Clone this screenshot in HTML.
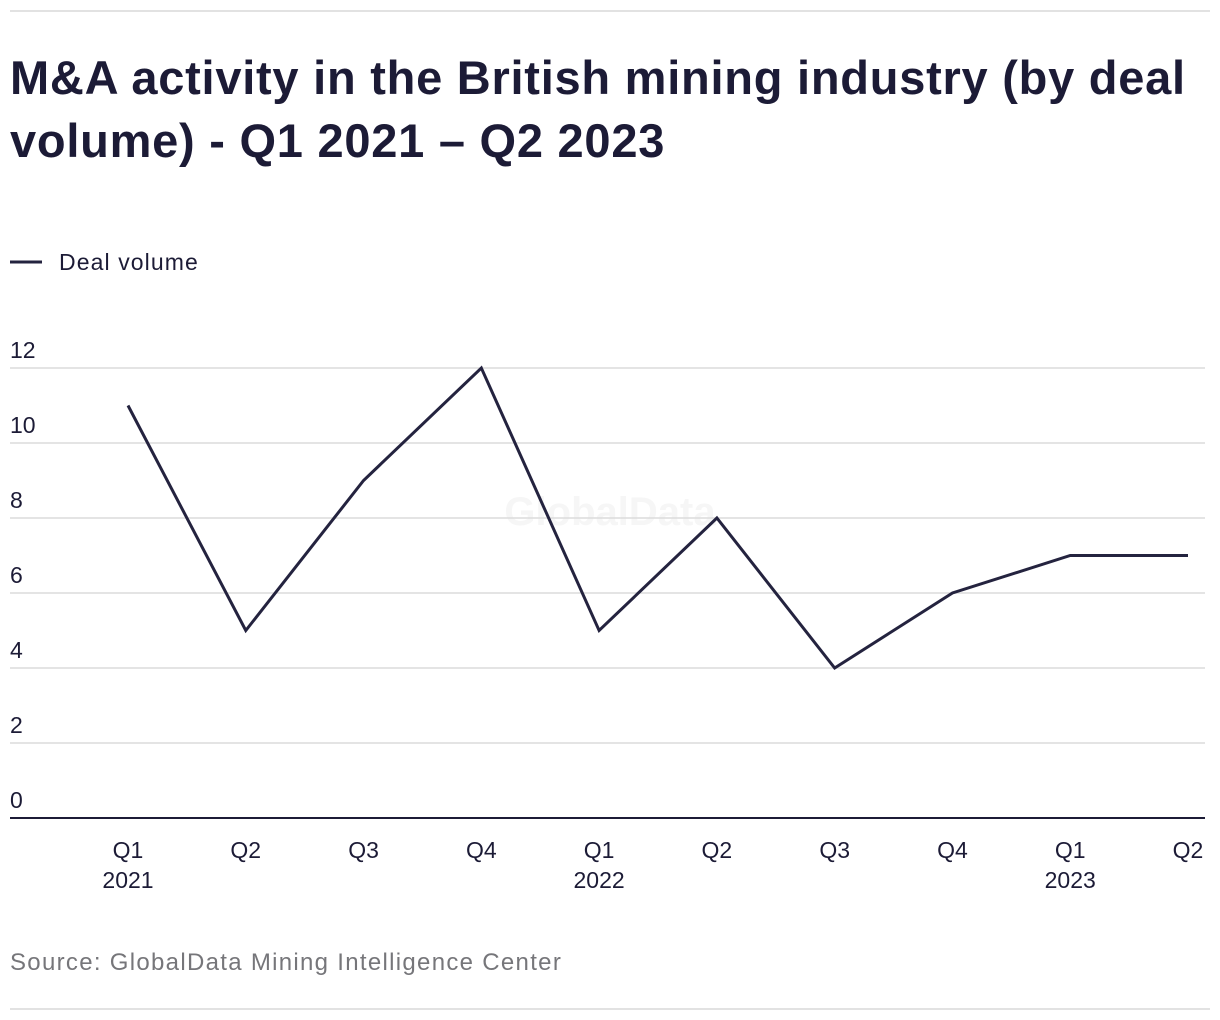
<!DOCTYPE html>
<html><head><meta charset="utf-8">
<style>
html,body{margin:0;padding:0;background:#fff;}
body{width:1220px;height:1020px;position:relative;overflow:hidden;font-family:"Liberation Sans",sans-serif;}
.rule{position:absolute;left:10px;width:1200px;height:2px;background:#e2e2e2;}
h1{position:absolute;left:10px;top:46px;margin:0;font-size:47px;line-height:63px;font-weight:bold;color:#1c1b36;letter-spacing:0.75px;width:1205px;}
</style></head>
<body>
<div class="rule" style="top:10px"></div>
<h1>M&amp;A activity in the British mining industry (by deal volume) - Q1 2021 – Q2 2023</h1>
<svg id="chart" width="1220" height="1020" style="position:absolute;left:0;top:0" font-family="Liberation Sans, sans-serif"></svg>
<div class="rule" style="top:1008px"></div>
<script>
const categories = ["Q1","Q2","Q3","Q4","Q1","Q2","Q3","Q4","Q1","Q2"];
const years = ["2021","","","","2022","","","","2023",""];
const dealVolume = [11,5,9,12,5,8,4,6,7,7];
const yTicks = [0,2,4,6,8,10,12];

const svg = document.getElementById('chart');
const NS = 'http://www.w3.org/2000/svg';
function mk(tag, attrs, text){const e=document.createElementNS(NS,tag);for(const k in attrs)e.setAttribute(k,attrs[k]);if(text!==undefined)e.textContent=text;svg.appendChild(e);return e;}
const y0=818, yTop=368, yMax=12;
function yScale(v){return y0-(v/yMax)*(y0-yTop);}
const x0=128, x1=1188;
function xScale(i){return x0+i*(x1-x0)/(categories.length-1);}

let el = mk('line',{x1:10,x2:42,y1:262,y2:262,stroke:'#24233f','stroke-width':3});


el = mk('text',{x:59,y:270,'font-size':23,fill:'#1c1b36','letter-spacing':1.1},'Deal volume');



el = mk('text',{x:610,y:525,'font-size':40,'font-weight':'bold',fill:'#f6f6f6','text-anchor':'middle'},'GlobalData');



yTicks.forEach(t=>{
  const y=yScale(t);
  const g = mk('line',{x1:10,x2:1205,y1:y,y2:y,stroke:t===0?'#1c1b36':'#dcdcdc','stroke-width':t===0?2:1.5});
  
  
  const lb = mk('text',{x:10,y:y-10,'font-size':23,fill:'#1c1b36'},String(t));
  
  
});

categories.forEach((c,i)=>{
  const x=xScale(i);
  const t = mk('text',{x:x,y:858,'font-size':23,fill:'#1c1b36','text-anchor':'middle'},c);
  
  
  if(years[i]){
    const yt = mk('text',{x:x,y:888,'font-size':23,fill:'#1c1b36','text-anchor':'middle'},years[i]);
    
    
  }
});

const pts = dealVolume.map((v,i)=>xScale(i)+','+yScale(v)).join(' ');
el = mk('polyline',{points:pts,fill:'none',stroke:'#24233f','stroke-width':3,'stroke-linejoin':'miter'});



el = mk('text',{x:10,y:970,'font-size':24,fill:'#76767a','letter-spacing':1.3},'Source: GlobalData Mining Intelligence Center');


</script>
</body></html>
